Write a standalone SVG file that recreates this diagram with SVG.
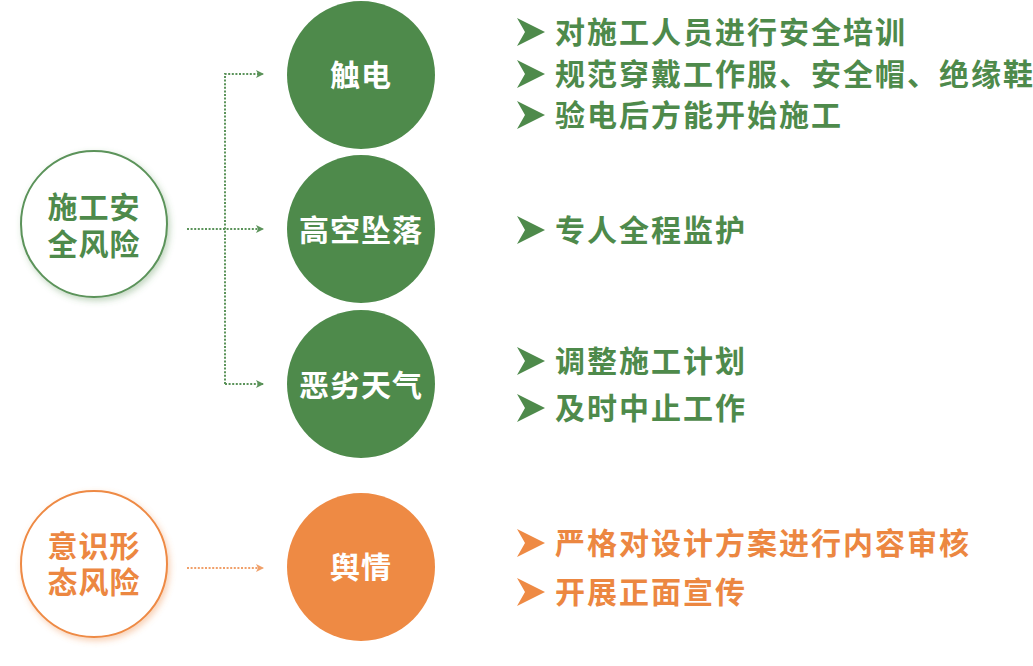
<svg xmlns="http://www.w3.org/2000/svg" width="1033" height="666" viewBox="0 0 1033 666">
<style>
  text { font-family: "Noto Sans CJK SC", "Noto Sans", sans-serif; font-weight: 700; font-size: 30px; }
  .wt { fill: #ffffff; text-anchor: middle; letter-spacing: 1px; }
  .gt { fill: #4e8a4b; }
  .ot { fill: #ec8741; }
  .mid { text-anchor: middle; letter-spacing: 1px; }
  .item { letter-spacing: 2px; }
  .gfill { fill: #4e8a4b; }
  .ofill { fill: #ee8a44; }
  .gline { fill: none; stroke: #5b935a; stroke-width: 2; stroke-dasharray: 2 1.6; }
  .oline { fill: none; stroke: #f0a06a; stroke-width: 2; stroke-dasharray: 2 1.6; }
</style>
<defs>
  <filter id="gsh" x="-30%" y="-30%" width="160%" height="160%">
    <feDropShadow dx="2" dy="3" stdDeviation="3" flood-color="#4e8a4b" flood-opacity="0.35"/>
  </filter>
  <filter id="osh" x="-30%" y="-30%" width="160%" height="160%">
    <feDropShadow dx="2" dy="3" stdDeviation="3" flood-color="#ee8a44" flood-opacity="0.4"/>
  </filter>
  <marker id="ga" viewBox="0 0 8 8" refX="7" refY="4" markerWidth="8" markerHeight="8" markerUnits="userSpaceOnUse" orient="auto">
    <path d="M0,0 L8,4 L0,8 L2,4 Z" fill="#5b935a"/>
  </marker>
  <marker id="oa" viewBox="0 0 8 8" refX="7" refY="4" markerWidth="8" markerHeight="8" markerUnits="userSpaceOnUse" orient="auto">
    <path d="M0,0 L8,4 L0,8 L2,4 Z" fill="#f0a06a"/>
  </marker>
  <path id="bul" d="M-14,-14 L14,0 L-14,14 L-6,0 Z"/>
</defs>

<g id="connectors">
  <path class="gline" d="M225,384 L225,74 L263,74" marker-end="url(#ga)"/>
  <path class="gline" d="M187,229 L263,229" marker-end="url(#ga)"/>
  <path class="gline" d="M225,384 L263,384" marker-end="url(#ga)"/>
  <path class="oline" d="M187,568 L263,568" marker-end="url(#oa)"/>
</g>

<g id="node-safety">
  <circle cx="94" cy="224" r="73" fill="#ffffff" stroke="#5b935a" stroke-width="2" filter="url(#gsh)"/>
  <text class="gt mid" x="94" y="218"><tspan x="94" y="218">施工安</tspan><tspan x="94" y="255">全风险</tspan></text>
</g>

<g id="node-ideology">
  <circle cx="94" cy="564" r="73" fill="#ffffff" stroke="#ee8a44" stroke-width="2" filter="url(#osh)"/>
  <text class="ot mid" x="94" y="557"><tspan x="94" y="557">意识形</tspan><tspan x="94" y="593">态风险</tspan></text>
</g>

<g id="node-shock">
  <circle class="gfill" cx="361" cy="75" r="74"/>
  <text class="wt" x="361" y="86">触电</text>
</g>

<g id="node-fall">
  <circle class="gfill" cx="361" cy="229" r="74"/>
  <text class="wt" x="361" y="241">高空坠落</text>
</g>

<g id="node-weather">
  <circle class="gfill" cx="361" cy="384" r="74"/>
  <text class="wt" x="361" y="396">恶劣天气</text>
</g>

<g id="node-opinion">
  <circle class="ofill" cx="361" cy="567" r="74"/>
  <text class="wt" x="361" y="578">舆情</text>
</g>

<g id="items-shock">
  <use href="#bul" x="531" y="32" class="gfill"/>
  <text class="gt item" x="555" y="43">对施工人员进行安全培训</text>
  <use href="#bul" x="531" y="74" class="gfill"/>
  <text class="gt item" x="555" y="85">规范穿戴工作服、安全帽、绝缘鞋</text>
  <use href="#bul" x="531" y="115" class="gfill"/>
  <text class="gt item" x="555" y="126">验电后方能开始施工</text>
</g>

<g id="items-fall">
  <use href="#bul" x="531" y="230" class="gfill"/>
  <text class="gt item" x="555" y="241">专人全程监护</text>
</g>

<g id="items-weather">
  <use href="#bul" x="531" y="361" class="gfill"/>
  <text class="gt item" x="555" y="372">调整施工计划</text>
  <use href="#bul" x="531" y="408" class="gfill"/>
  <text class="gt item" x="555" y="419">及时中止工作</text>
</g>

<g id="items-opinion">
  <use href="#bul" x="531" y="543" class="ofill"/>
  <text class="ot item" x="555" y="554">严格对设计方案进行内容审核</text>
  <use href="#bul" x="531" y="592" class="ofill"/>
  <text class="ot item" x="555" y="603">开展正面宣传</text>
</g>
</svg>
